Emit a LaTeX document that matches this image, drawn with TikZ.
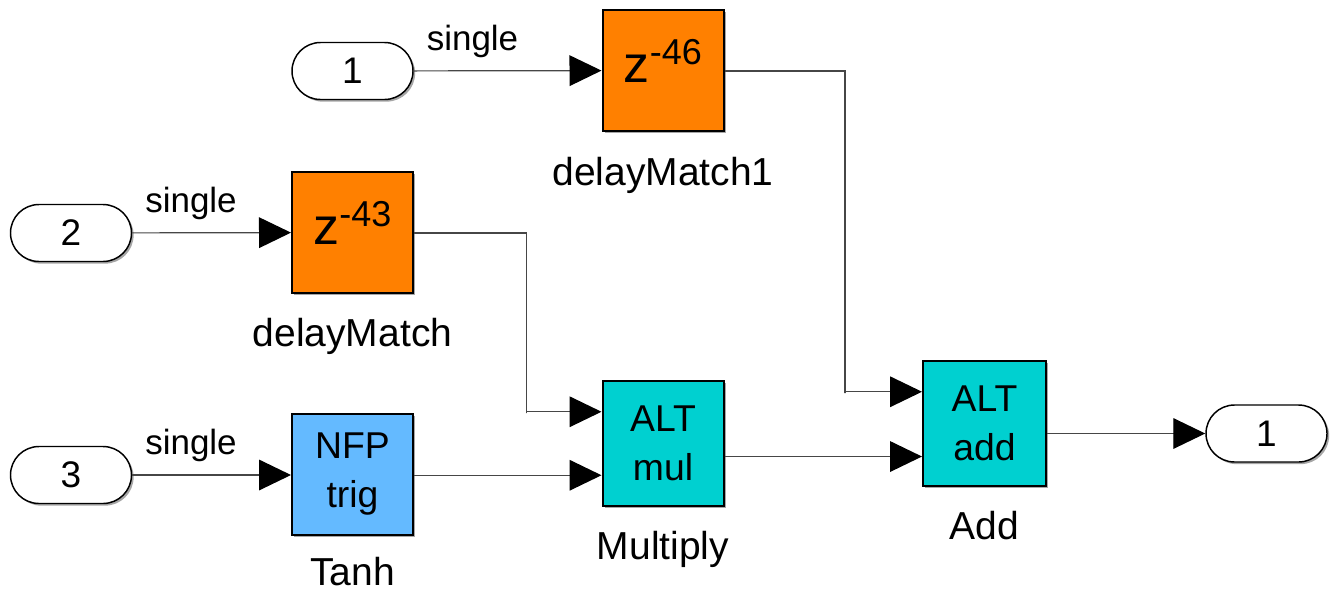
\documentclass[tikz,border=0pt]{standalone}
\usepackage{fontspec}
\setmainfont{Liberation Sans}
\usetikzlibrary{arrows.meta,shapes.misc,shadows,calc}
\definecolor{dmorange}{RGB}{255,128,0}
\definecolor{altcyan}{RGB}{0,208,208}
\definecolor{nfpblue}{RGB}{100,186,255}
\definecolor{wiregray}{RGB}{70,70,70}
\begin{document}
\begin{tikzpicture}[x=0.75pt,y=-0.75pt,
  shd/.style={drop shadow={shadow xshift=1.6pt,shadow yshift=-1.6pt,opacity=0.35,fill=black}},
  blk/.style={shd,draw=black,line width=1.5pt,minimum width=90.75pt,minimum height=90.75pt,
    inner sep=0pt,align=center,font=\fontsize{28}{36.75}\selectfont},
  delayblk/.style={blk,fill=dmorange,text height=18.5pt,text depth=0pt},
  altblk/.style={blk,fill=altcyan,minimum height=93.75pt},
  nfpblk/.style={blk,fill=nfpblue},
  port/.style={shd,rounded rectangle,draw=black,line width=1.1pt,fill=white,
    minimum width=90.75pt,minimum height=42.75pt,inner sep=0pt,
    font=\fontsize{27.75}{30}\selectfont},
  wire/.style={draw=wiregray,line width=0.9pt},
  sig/.style={wire,-{Triangle[length=24pt,width=23pt,color=black]}},
  bname/.style={font=\fontsize{29.25}{32}\selectfont,anchor=base,inner sep=0pt},
  dtype/.style={font=\fontsize{26.25}{28}\selectfont,anchor=base,inner sep=0pt}]

\useasboundingbox (0,0) rectangle (1331,590);

% ports
\node[port] (in1) at (352.5,71) {1};
\node[port] (in2) at (71,233) {2};
\node[port] (in3) at (71,475) {3};
\node[port] (out1) at (1266.5,433.5) {1};

% blocks
\node[delayblk] (dm1) at (663,70.5) {\fontsize{39}{40}\selectfont z\raisebox{13.5pt}{\fontsize{27}{28}\selectfont -46}};
\node[delayblk] (dm) at (352.5,232.5) {\fontsize{39}{40}\selectfont z\raisebox{13.5pt}{\fontsize{27}{28}\selectfont -43}};
\node[nfpblk] (tanh) at (352.5,474.5) {NFP\\trig};
\node[altblk] (mul) at (663,443.5) {ALT\\mul};
\node[altblk,minimum width=92.25pt] (add) at (984.5,423.5) {ALT\\add};

% block names
\node[bname] (ndm1) at ($(dm1.south)+(0,53)$) {delayMatch1};
\node[bname] (ndm) at ($(dm.south)+(0,52)$) {delayMatch};
\node[bname] (ntanh) at ($(tanh.south)+(0,49)$) {Tanh};
\node[bname] (nmul) at ($(mul.south)+(0,52)$) {Multiply};
\node[bname] (nadd) at ($(add.south)+(0,52)$) {Add};

% data type labels
\node[dtype] (s1) at (472.5,50) {single};
\node[dtype] (s2) at (191,212) {single};
\node[dtype] (s3) at (191,454) {single};

% port coordinates
\coordinate (mulin1) at ($(mul.north west)!0.25!(mul.south west)$);
\coordinate (mulin2) at ($(mul.north west)!0.75!(mul.south west)$);
\coordinate (addin1) at ($(add.north west)!0.25!(add.south west)$);
\coordinate (addin2) at ($(add.north west)!0.76!(add.south west)$);
\coordinate (mulout) at (mul.east |- addin2);
\coordinate (addout) at (add.east |- out1.west);
\coordinate (dmout) at (dm.east |- in2.east);
\coordinate (tanhout) at (tanh.east |- mulin2);
\coordinate (dm1out) at (dm1.east |- in1.east);

% connectors
\draw[sig] (in1) -- (dm1);
\draw[sig] (in2) -- (dm);
\draw[sig] (in3.east) -- (in3.east -| tanh.west);
\draw[sig] (dm1out) -| (845,393) |- (addin1);
\draw[sig] (dmout) -| (526.5,413) |- (mulin1);
\draw[sig] (tanhout) -- (mulin2);
\draw[sig] (mulout) -- (addin2);
\draw[sig] (addout) -- (out1.west);
\end{tikzpicture}
\end{document}
